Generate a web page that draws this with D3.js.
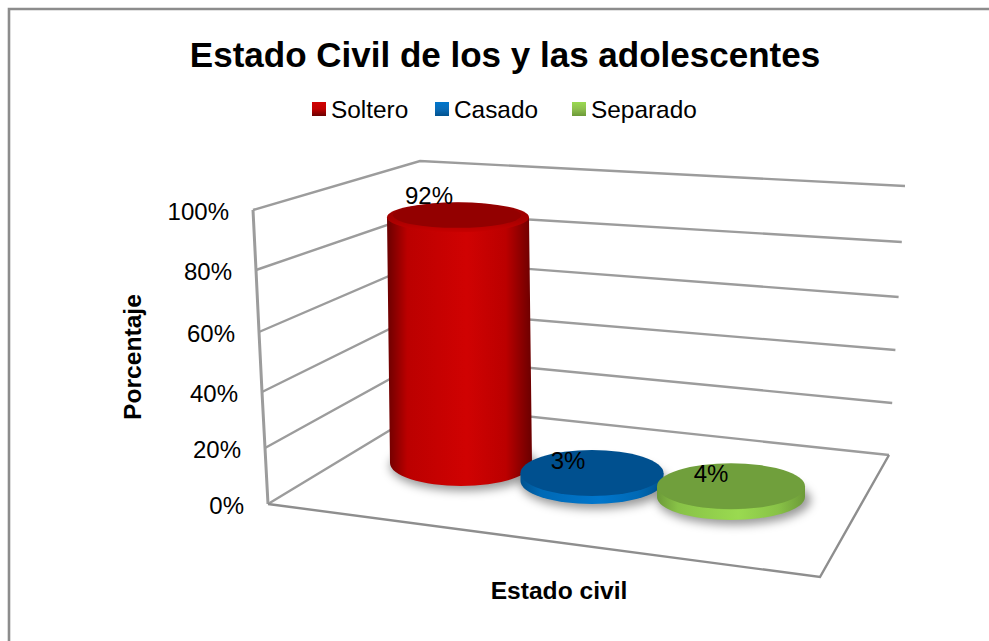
<!DOCTYPE html>
<html lang="es">
<head>
<meta charset="utf-8">
<title>Estado Civil de los y las adolescentes</title>
<script src="https://cdn.jsdelivr.net/npm/d3@7/dist/d3.min.js"></script>
<style>
html, body { margin: 0; padding: 0; background: #fff; }
svg { display: block; }
text { font-family: "Liberation Sans", Arial, sans-serif; fill: #000; }
</style>
</head>
<body>
<svg id="chart" width="989" height="641"></svg>
<script>
// Chart content
const categories = ["Soltero", "Casado", "Separado"];
const percentages = [92, 3, 4];
const axisTicks = [0, 20, 40, 60, 80, 100];
const tickLabels = ["0%", "20%", "40%", "60%", "80%", "100%"];
const chartTitle = "Estado Civil de los y las adolescentes";
const xAxisTitle = "Estado civil";
const yAxisTitle = "Porcentaje";

// Series palettes: top face, side shadow, side body, side highlight
const palettes = [
  { top: "#930000", dark: "#6a0000", mid: "#bb0000", light: "#d00202", swatch: "#c00000" },
  { top: "#00508f", dark: "#00528f", mid: "#0069b5", light: "#0076cc", swatch: "#0a6cb8" },
  { top: "#709f3c", dark: "#6c9a38", mid: "#88c247", light: "#9ada50", swatch: "#8ebf4e" }
];

const svg = d3.select("#chart");
const defs = svg.append("defs");

// Blur for the soft shadow under each solid
defs.append("filter").attr("id", "soft")
  .attr("x", "-30%").attr("y", "-60%").attr("width", "160%").attr("height", "220%")
  .append("feGaussianBlur").attr("stdDeviation", 5);

palettes.forEach((p, i) => {
  const g = defs.append("linearGradient").attr("id", "side" + i)
    .attr("x1", 0).attr("x2", 1).attr("y1", 0).attr("y2", 0);
  [[0, p.dark], [0.14, p.mid], [0.55, p.light], [0.82, p.mid], [1, p.dark]].forEach(([o, c]) =>
    g.append("stop").attr("offset", o).attr("stop-color", c));
  const s = defs.append("linearGradient").attr("id", "swatch" + i)
    .attr("x1", 0).attr("x2", 0).attr("y1", 0).attr("y2", 1);
  [[0, p.light], [0.5, p.swatch], [1, p.dark]].forEach(([o, c]) =>
    s.append("stop").attr("offset", o).attr("stop-color", c));
});

// Rim of the tall cylinder: dark at the back, bright at the front lip
const rim = defs.append("linearGradient").attr("id", "rim")
  .attr("x1", 0).attr("x2", 0).attr("y1", 0).attr("y2", 1);
[[0, "#930000"], [0.6, "#a80000"], [1, "#c80000"]].forEach(([o, c]) =>
  rim.append("stop").attr("offset", o).attr("stop-color", c));

// Outer chart frame: only the top and left edges fall inside the page
svg.append("path")
  .attr("d", "M9,641V9H989")
  .attr("fill", "none").attr("stroke", "#8c8c8c").attr("stroke-width", 2.6);

// Projection of the 3D box: one value scale per vertical edge
const frontY = d3.scaleLinear().domain(axisTicks).range([504, 448, 392, 332, 270, 210]);
const frontX = d3.scaleLinear().domain([0, 100]).range([268, 253]);
const backY = d3.scaleLinear().domain(axisTicks).range([406, 358, 311, 261, 213, 161]);
const backX = d3.scaleLinear().domain([0, 100]).range([430, 420]);
const rightY = d3.scaleLinear().domain(axisTicks).range([455, 403, 350, 297, 242, 186]);
const rightX = d3.scaleLinear().domain([0, 100]).range([889, 905]);

const wallLine = d3.line();
const walls = svg.append("g").attr("fill", "none").attr("stroke", "#9c9c9c")
  .attr("stroke-width", 2.4).attr("stroke-linejoin", "miter");

walls.selectAll("path.grid").data(axisTicks).join("path")
  .attr("class", "grid")
  .attr("d", v => wallLine([
    [frontX(v), frontY(v)],
    [backX(v), backY(v)],
    [rightX(v), rightY(v)]
  ]));

// Front vertical edge of the side wall
walls.append("path").attr("d", wallLine(axisTicks.map(v => [frontX(v), frontY(v)])))
  .attr("stroke-width", 3);

// Floor outline running out to the near corner
walls.append("path")
  .attr("d", wallLine([[frontX(0), frontY(0)], [820, 577], [rightX(0), rightY(0)]]))
  .attr("stroke", "#8e8e8e");

// Value axis labels
svg.append("g").attr("font-size", 24).attr("text-anchor", "end")
  .selectAll("text").data(axisTicks).join("text")
  .attr("x", v => frontX(v) - 24)
  .attr("y", v => frontY(v) + 10)
  .text((v, i) => tickLabels[i]);

// Solids, placed along the floor by category index
const idx = categories.map((_, i) => i);
const baseX = d3.scaleLinear().domain(idx).range([461, 592, 731]);
const baseY = d3.scaleLinear().domain(idx).range([463, 481, 497]);
const radiusX = d3.scaleLinear().domain(idx).range([71, 71.5, 74]);
const radiusY = d3.scaleLinear().domain(idx).range([23, 23, 23]);
const heightOf = d3.scaleLinear().domain([0, 100]).range([0, 267]);

const solids = svg.append("g").selectAll("g").data(percentages).join("g");

solids.append("ellipse").attr("filter", "url(#soft)")
  .attr("cx", (d, i) => baseX(i) + 3).attr("cy", (d, i) => baseY(i) + 3)
  .attr("rx", (d, i) => radiusX(i) + 3).attr("ry", (d, i) => radiusY(i) + 2)
  .attr("fill", "#000").attr("fill-opacity", 0.4);

// Cylinder wall: two half ellipses joined by straight sides
solids.append("path")
  .attr("fill", (d, i) => `url(#side${i})`)
  .attr("d", (d, i) => {
    const rx = radiusX(i), ry = radiusY(i);
    const cx = baseX(i), cy = baseY(i);
    const lean = i === 0 ? 3 : 0;
    const topY = cy - heightOf(d);
    return `M${cx - rx},${cy}A${rx},${ry} 0 0 0 ${cx + rx},${cy}` +
      `L${cx + rx - lean},${topY}L${cx - rx - lean},${topY}Z`;
  });

// Top face with a rim and a darker inner cap
solids.append("ellipse")
  .attr("cx", (d, i) => baseX(i) - (i === 0 ? 3 : 0))
  .attr("cy", (d, i) => baseY(i) - heightOf(d))
  .attr("rx", (d, i) => radiusX(i))
  .attr("ry", (d, i) => i === 0 ? 15 : radiusY(i))
  .attr("fill", (d, i) => i === 0 ? "url(#rim)" : palettes[i].top);

solids.filter((d, i) => i === 0).append("ellipse")
  .attr("cx", baseX(0) - 4)
  .attr("cy", d => baseY(0) - heightOf(d) - 2)
  .attr("rx", radiusX(0) - 7)
  .attr("ry", 12.5)
  .attr("fill", palettes[0].top);

// Value labels sit on the upper rim of each solid
svg.append("g").attr("font-size", 24).attr("text-anchor", "middle")
  .selectAll("text").data(percentages).join("text")
  .attr("x", (d, i) => [429, 568, 711][i])
  .attr("y", (d, i) => baseY(i) - heightOf(d) - [13, 4, 4][i])
  .text(d => d + "%");

// Titles
svg.append("text").attr("x", 505).attr("y", 67)
  .attr("text-anchor", "middle").attr("font-size", 35).attr("font-weight", "bold")
  .text(chartTitle);

svg.append("text").attr("x", 559).attr("y", 599)
  .attr("text-anchor", "middle").attr("font-size", 24.6).attr("font-weight", "bold")
  .text(xAxisTitle);

svg.append("text")
  .attr("transform", "translate(141,357) rotate(-90)")
  .attr("text-anchor", "middle").attr("font-size", 24.6).attr("font-weight", "bold")
  .text(yAxisTitle);

// Legend
const legendX = d3.scaleOrdinal().domain(categories).range([312, 435, 572]);
const legend = svg.append("g").selectAll("g").data(categories).join("g")
  .attr("transform", d => `translate(${legendX(d)},0)`);
legend.append("rect").attr("x", 0).attr("y", 102).attr("width", 14).attr("height", 14)
  .attr("fill", (d, i) => `url(#swatch${i})`);
legend.append("text").attr("x", 19).attr("y", 118).attr("font-size", 24.4).text(d => d);
</script>
</body>
</html>
